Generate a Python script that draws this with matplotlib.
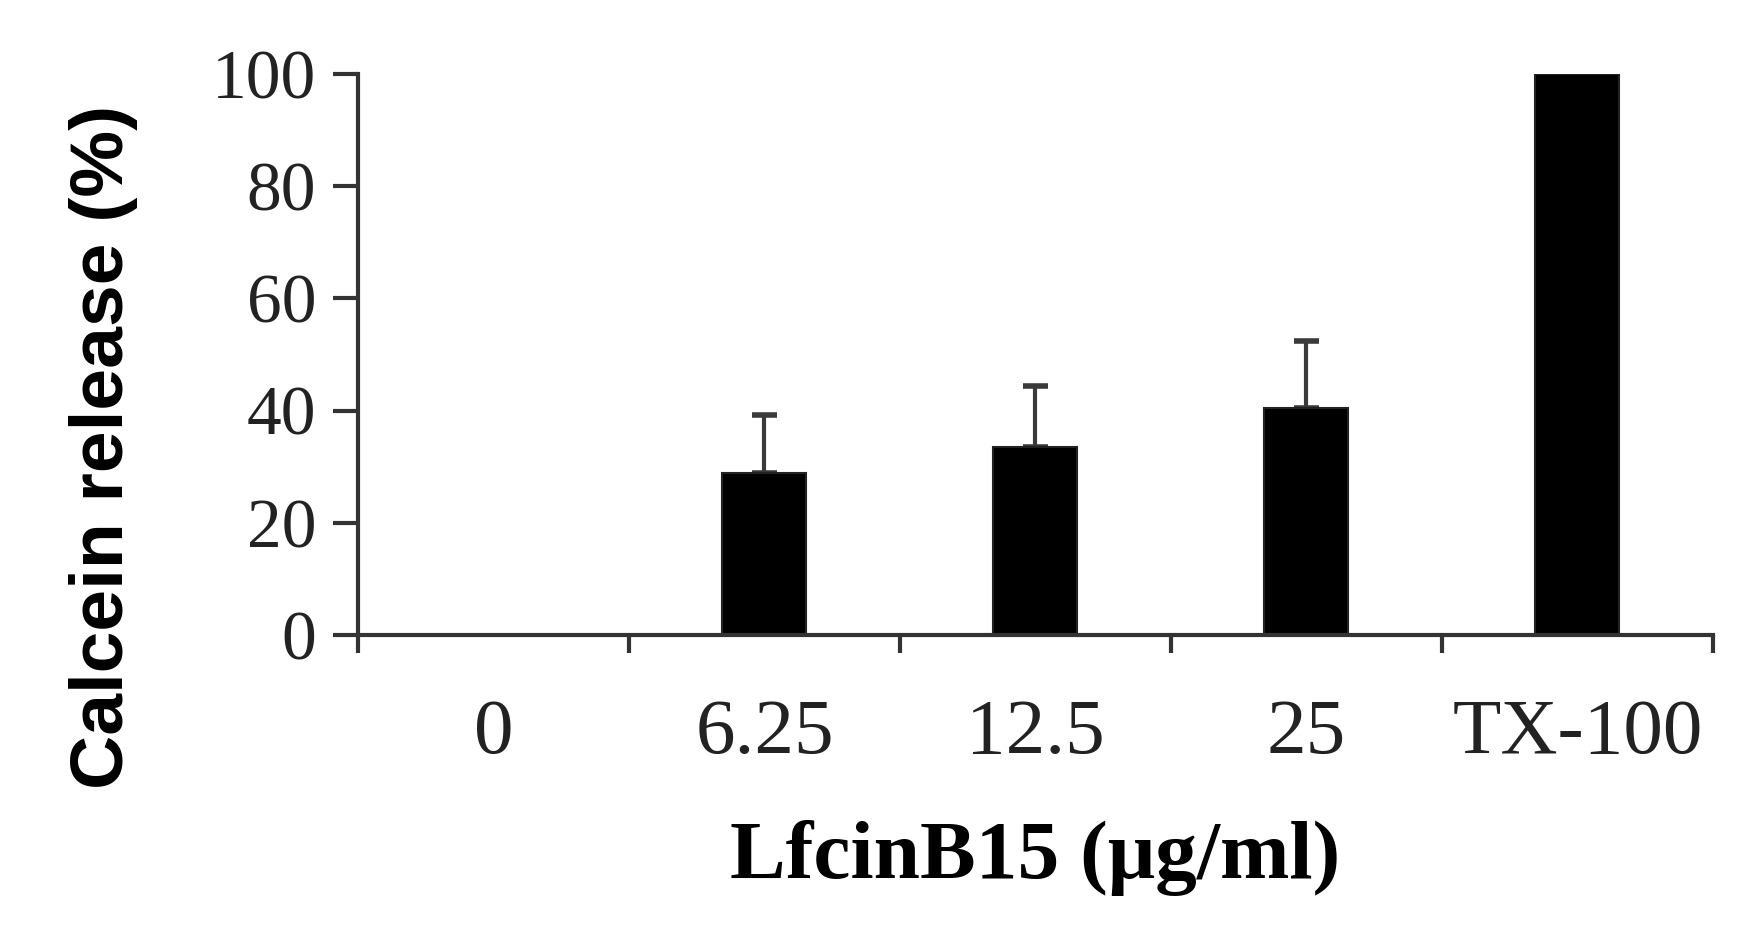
import matplotlib
matplotlib.use("Agg")
import matplotlib.pyplot as plt
import numpy as np

# data
categories = ["0", "6.25", "12.5", "25", "TX-100"]
release = [0, 28.9, 33.5, 40.4, 100]
err_upper = [0, 10.3, 10.9, 12.0, 0]

fig = plt.figure(figsize=(17.65, 9.39), dpi=100)
ax = fig.add_axes([0.2028, 0.3237, 0.9705 - 0.2028, 0.9212 - 0.3237])

x = np.arange(len(categories)) + 0.5
ax.bar(x, release, width=0.31, color="black", edgecolor="#222222", linewidth=1.5, zorder=2)

# only the upper half of the error bars is shown
has_err = [i for i, e in enumerate(err_upper) if e > 0]
ax.errorbar(x[has_err], np.array(release)[has_err],
            yerr=[np.zeros(len(has_err)), np.array(err_upper)[has_err]],
            fmt="none", ecolor="#3a3a3a", elinewidth=3, capsize=9, capthick=4, zorder=1)

ax.set_xlim(0, len(categories))
ax.set_ylim(0, 100)
ax.set_yticks([0, 20, 40, 60, 80, 100])
ax.set_xticks(np.arange(len(categories) + 1))
ax.set_xticklabels([])
ax.set_xticks(x, minor=True)
ax.set_xticklabels(categories, minor=True)

for s in ["top", "right"]:
    ax.spines[s].set_visible(False)
for s in ["left", "bottom"]:
    ax.spines[s].set_linewidth(3)
    ax.spines[s].set_color("#333333")

ax.tick_params(axis="y", which="major", direction="out", length=18, width=3, color="#333333",
               labelsize=50, pad=12, labelcolor="#222222")
ax.tick_params(axis="x", which="major", direction="out", length=13, width=3, color="#333333")
ax.tick_params(axis="x", which="minor", length=0, labelsize=57, pad=46, labelcolor="#222222")
for lab in ax.get_yticklabels() + ax.get_xticklabels(minor=True):
    lab.set_family("Liberation Serif")

ax.set_ylabel("Calcein release (%)", fontsize=54, fontweight="bold", family="Liberation Sans")
ax.yaxis.set_label_coords(-0.162, 0.335)
ax.set_xlabel("LfcinB15 (μg/ml)", fontsize=60, fontweight="bold", family="Liberation Serif")
ax.xaxis.set_label_coords(0.5, -0.33)

fig.savefig("out.png", dpi=100, facecolor="white")
